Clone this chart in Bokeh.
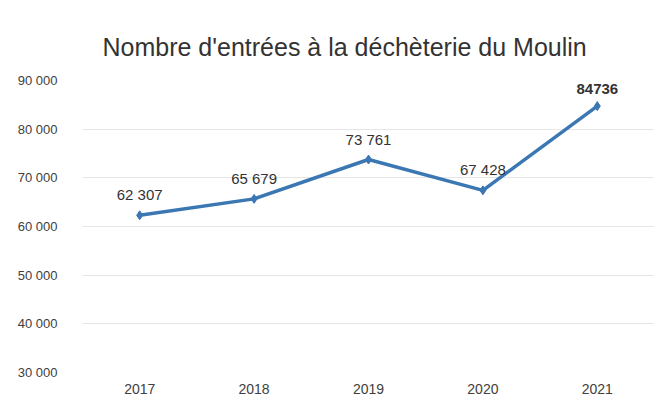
from bokeh.plotting import figure
from bokeh.models import ColumnDataSource, FixedTicker, CustomJSTickFormatter, Range1d
from bokeh.core.properties import value
from bokeh.embed import file_html
from bokeh.resources import INLINE

years = ["2017", "2018", "2019", "2020", "2021"]
entries = [62307, 65679, 73761, 67428, 84736]
labels = ["62 307", "65 679", "73 761", "67 428", "84736"]
y_ticks = [30000, 40000, 50000, 60000, 70000, 80000, 90000]

FONT = "Liberation Sans"

p = figure(width=654, height=396, x_range=years, y_range=Range1d(30000, 90000),
           output_backend="svg", toolbar_location=None,
           min_border_left=82, min_border_right=0, min_border_top=80, min_border_bottom=21)
p.title.text = "Nombre d'entrées à la déchèterie du Moulin"
p.title.align = "left"
p.title.text_font = FONT
p.title.text_font_size = "25px"
p.title.text_font_style = "normal"
p.title.text_color = "#333333"
p.title.offset = 20
p.title.standoff = 39

p.outline_line_color = None
p.xgrid.grid_line_color = None
p.ygrid.grid_line_color = "#e6e6e6"
p.ygrid.grid_line_width = 1

p.yaxis.ticker = FixedTicker(ticks=y_ticks)
p.yaxis.formatter = CustomJSTickFormatter(code="return (tick/1000).toFixed(0) + ' 000';")
for ax in (p.xaxis, p.yaxis):
    ax.axis_line_color = None
    ax.major_tick_line_color = None
    ax.minor_tick_line_color = None
    ax.major_label_text_font = FONT
    ax.major_label_text_color = "#404040"
p.yaxis.major_label_text_font_size = "13px"
p.yaxis.major_label_standoff = 19
p.xaxis.major_label_text_font_size = "14px"
p.xaxis.major_label_standoff = 5

src = ColumnDataSource(dict(x=years, y=entries, lab=labels))
p.line("x", "y", source=src, line_color="#3b77b3", line_width=3.5)
p.scatter("x", "y", source=src, marker="diamond", size=9, fill_color="#3b77b3", line_color="#3b77b3")

src_n = ColumnDataSource(dict(x=years[:4], y=entries[:4], lab=labels[:4]))
src_b = ColumnDataSource(dict(x=years[4:], y=entries[4:], lab=labels[4:]))
p.text("x", "y", text="lab", source=src_n, text_font=value(FONT), text_font_size="15px",
       text_color="#333333", text_align="center", text_baseline="bottom", y_offset=-12)
p.text("x", "y", text="lab", source=src_b, text_font=value(FONT), text_font_size="15px",
       text_font_style="bold", text_color="#333333", text_align="center", text_baseline="bottom",
       y_offset=-12)

open("out.html", "w").write(file_html(p, INLINE))
